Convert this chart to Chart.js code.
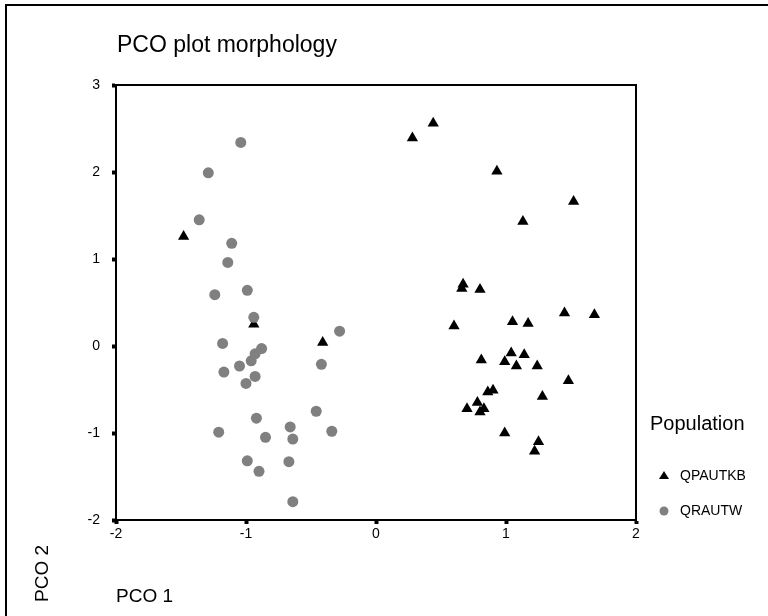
<!DOCTYPE html>
<html>
<head>
<meta charset="utf-8">
<title>PCO plot morphology</title>
<script src="https://cdn.jsdelivr.net/npm/chart.js@4.4.1/dist/chart.umd.min.js"></script>
<style>
  html, body { margin: 0; padding: 0; background: #fff; }
  #wrap { width: 768px; height: 616px; }
</style>
</head>
<body>
<div id="wrap"><canvas id="pco" width="768" height="616"></canvas></div>
<script>
// Values (PCO 1, PCO 2)
const qpautkbX = [-1.48, -0.94, -0.41, 0.28, 0.44, 0.93, 1.52, 1.13, 0.67, 0.66, 0.80, 0.60,
  1.05, 1.17, 1.45, 1.68, 0.81, 1.04, 0.99, 1.14, 1.08, 1.24, 1.48, 0.86, 0.90, 1.28,
  0.70, 0.78, 0.83, 0.80, 0.99, 1.25, 1.22];
const qpautkbY = [1.26, 0.25, 0.04, 2.39, 2.56, 2.01, 1.66, 1.43, 0.71, 0.66, 0.65, 0.23,
  0.28, 0.26, 0.38, 0.36, -0.16, -0.08, -0.18, -0.10, -0.23, -0.23, -0.40, -0.53, -0.51, -0.58,
  -0.72, -0.65, -0.72, -0.76, -1.00, -1.10, -1.21];

const qrautwX = [-1.04, -1.29, -1.36, -1.11, -1.14, -1.24, -0.99, -0.94, -1.18, -0.88,
  -0.93, -0.96, -1.05, -1.17, -0.93, -1.00, -0.92, -1.21, -0.85, -0.66, -0.64, -0.99,
  -0.90, -0.67, -0.64, -0.28, -0.42, -0.46, -0.34];
const qrautwY = [2.34, 1.99, 1.45, 1.18, 0.96, 0.59, 0.64, 0.33, 0.03, -0.03,
  -0.09, -0.17, -0.23, -0.30, -0.35, -0.43, -0.83, -0.99, -1.05, -0.93, -1.07, -1.32,
  -1.44, -1.33, -1.79, 0.17, -0.21, -0.75, -0.98];

const xTicks = [-2, -1, 0, 1, 2];
const yTicks = [-2, -1, 0, 1, 2, 3];

const FONT = "'Liberation Sans', Arial, sans-serif";

function toPoints(xs, ys) {
  return xs.map((x, i) => ({ x: x, y: ys[i] }));
}

// frame, box edges, titles and legend drawn on top of the chart
const decorations = {
  id: "decorations",
  afterDraw(chart) {
    const ctx = chart.ctx;
    const a = chart.chartArea;
    ctx.save();

    // outer frame (only top and left edges fall inside the picture)
    ctx.strokeStyle = "#000";
    ctx.lineWidth = 2;
    ctx.beginPath();
    ctx.moveTo(6, 616);
    ctx.lineTo(6, 5);
    ctx.lineTo(768, 5);
    ctx.stroke();

    // top and right sides of the plot box
    ctx.beginPath();
    ctx.moveTo(a.left, a.top);
    ctx.lineTo(a.right, a.top);
    ctx.lineTo(a.right, a.bottom);
    ctx.stroke();

    ctx.fillStyle = "#000";
    ctx.textBaseline = "alphabetic";
    ctx.textAlign = "left";
    ctx.font = "23px " + FONT;
    ctx.fillText("PCO plot morphology", 117, 52);

    ctx.font = "19px " + FONT;
    ctx.fillText("PCO 1", 116, 602);

    ctx.save();
    ctx.translate(48, 602);
    ctx.rotate(-Math.PI / 2);
    ctx.fillText("PCO 2", 0, 0);
    ctx.restore();

    // legend
    ctx.font = "20px " + FONT;
    ctx.fillText("Population", 650, 430);
    ctx.font = "14px " + FONT;
    ctx.textBaseline = "middle";
    chart.data.datasets.forEach((ds, i) => {
      const cy = 476 + i * 35;
      const cx = 664;
      ctx.fillStyle = ds.backgroundColor;
      ctx.beginPath();
      if (ds.pointStyle === "triangle") {
        ctx.moveTo(cx, cy - 5);
        ctx.lineTo(cx + 5, cy + 3);
        ctx.lineTo(cx - 5, cy + 3);
        ctx.closePath();
      } else {
        ctx.arc(cx, cy, 4.5, 0, Math.PI * 2);
      }
      ctx.fill();
      ctx.fillStyle = "#000";
      ctx.fillText(ds.label, 680, cy);
    });

    ctx.restore();
  },
};

new Chart(document.getElementById("pco"), {
  type: "scatter",
  data: {
    datasets: [
      {
        label: "QPAUTKB",
        data: toPoints(qpautkbX, qpautkbY),
        pointStyle: "triangle",
        pointRadius: 6.5,
        pointHoverRadius: 6.5,
        backgroundColor: "#000000",
        borderColor: "#000000",
        borderWidth: 0,
        order: 2,
      },
      {
        label: "QRAUTW",
        data: toPoints(qrautwX, qrautwY),
        pointStyle: "circle",
        pointRadius: 5.5,
        pointHoverRadius: 5.5,
        backgroundColor: "#808080",
        borderColor: "#808080",
        borderWidth: 0,
        order: 1,
      },
    ],
  },
  options: {
    responsive: false,
    animation: false,
    layout: {
      padding: { left: 0, top: 85, right: 132, bottom: 66 },
    },
    plugins: {
      legend: { display: false },
      tooltip: { enabled: false },
      title: { display: false },
    },
    scales: {
      x: {
        type: "linear",
        position: "bottom",
        min: -2,
        max: 2,
        afterBuildTicks(scale) {
          scale.ticks = xTicks.map((v) => ({ value: v }));
        },
        afterFit(scale) {
          scale.height = 30;
        },
        ticks: {
          color: "#000",
          padding: 2,
          font: { size: 14, family: FONT },
        },
        grid: {
          drawOnChartArea: false,
          drawTicks: true,
          tickLength: 4,
          tickWidth: 4,
          tickColor: "#000",
        },
        border: { color: "#000", width: 2 },
      },
      y: {
        type: "linear",
        min: -2,
        max: 3,
        afterBuildTicks(scale) {
          scale.ticks = yTicks.map((v) => ({ value: v }));
        },
        afterFit(scale) {
          scale.width = 116;
        },
        ticks: {
          color: "#000",
          padding: 12,
          font: { size: 14, family: FONT },
        },
        grid: {
          drawOnChartArea: false,
          drawTicks: true,
          tickLength: 4,
          tickWidth: 4,
          tickColor: "#000",
        },
        border: { color: "#000", width: 2 },
      },
    },
  },
  plugins: [decorations],
});
</script>
</body>
</html>
